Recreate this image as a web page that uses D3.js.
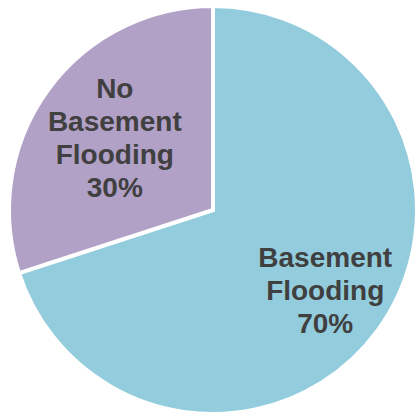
<!DOCTYPE html>
<html>
<head>
<meta charset="utf-8">
<script src="https://cdn.jsdelivr.net/npm/d3@7/dist/d3.min.js"></script>
<style>
  html, body { margin: 0; padding: 0; background: #ffffff; }
  svg { display: block; }
</style>
</head>
<body>
<svg id="chart" width="417" height="416"></svg>
<script>
// Share of homes by basement flooding outcome
const categories = ["Basement Flooding", "No Basement Flooding"];
const values = [70, 30];
const labelLines = [["Basement", "Flooding", "70%"], ["No", "Basement", "Flooding", "30%"]];
const colors = ["#93cddd", "#b2a1c7"];

const width = 417, height = 416;
const cx = 213, cy = 210, radius = 204;

const svg = d3.select("#chart");
const g = svg.append("g").attr("transform", `translate(${cx},${cy})`);

const pie = d3.pie().sort(null).value(d => d.value);
const data = pie(categories.map((c, i) => ({ name: c, value: values[i], lines: labelLines[i], color: colors[i] })));

const arc = d3.arc().innerRadius(0).outerRadius(radius);

g.selectAll("path.slice")
  .data(data)
  .join("path")
  .attr("class", "slice")
  .attr("d", arc)
  .attr("fill", d => d.data.color)
  .attr("stroke", "#ffffff")
  .attr("stroke-width", 4)
  .attr("stroke-linejoin", "miter");

// Label radius as a fraction of the pie radius, per slice
const labelFrac = [0.68, 0.595];
const lineH = 33;

const labels = g.selectAll("text.label")
  .data(data)
  .join("text")
  .attr("class", "label")
  .attr("text-anchor", "middle")
  .attr("font-family", "Arial, 'Liberation Sans', sans-serif")
  .attr("font-weight", "bold")
  .attr("font-size", 28)
  .attr("fill", "#404040")
  .attr("transform", (d, i) => {
    const r = radius * labelFrac[i];
    const [x, y] = d3.arc().innerRadius(r).outerRadius(r).centroid(d);
    return `translate(${x},${y})`;
  });

labels.each(function(d) {
  const n = d.data.lines.length;
  d3.select(this).selectAll("tspan")
    .data(d.data.lines)
    .join("tspan")
    .attr("x", 0)
    .attr("y", (t, j) => (j - (n - 1) / 2) * lineH + 8.5)
    .text(t => t);
});
</script>
</body>
</html>
